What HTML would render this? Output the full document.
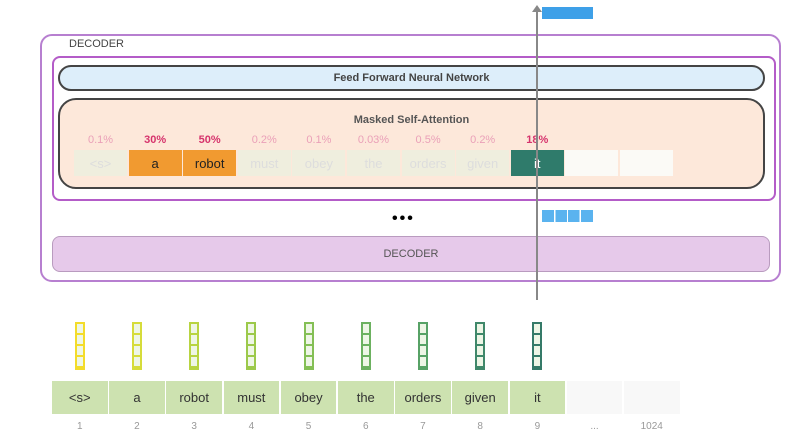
<!DOCTYPE html>
<html><head><style>
body{margin:0;width:810px;height:446px;background:#fff;font-family:"Liberation Sans",sans-serif;position:relative;overflow:hidden}
.a{position:absolute;box-sizing:border-box}
.c{display:flex;align-items:center;justify-content:center}
</style></head><body>
<div class="a" style="left:40px;top:34px;width:741px;height:248px;border:2px solid #b77fd0;border-radius:12px"></div>
<div class="a" style="left:69px;top:38px;font-size:11px;color:#444">DECODER</div>
<div class="a" style="left:52px;top:56px;width:724px;height:145px;border:2px solid #b45cc8;border-radius:8px"></div>
<div class="a c" style="left:58px;top:65px;width:707px;height:26px;border:2px solid #444;border-radius:13px;background:#ddeefa;font-size:11px;font-weight:bold;color:#444">Feed Forward Neural Network</div>
<div class="a" style="left:58px;top:98px;width:707px;height:91px;border:2px solid #444;border-radius:18px;background:#fde8da"></div>
<div class="a" style="left:58px;top:114px;width:707px;text-align:center;font-size:11px;font-weight:bold;color:#555">Masked Self-Attention</div>
<div id="top"></div>
<div class="a" style="left:52px;top:236px;width:718px;height:36px;border:1px solid #b99bbf;border-radius:8px;background:#e6c9ea;font-size:11px;color:#555" ></div>
<div class="a c" style="left:52px;top:236px;width:718px;height:36px;font-size:11px;color:#555">DECODER</div>
<div class="a" style="left:392px;top:210px;font-size:16px;font-weight:bold;letter-spacing:2px">•••</div>
<div class="a" style="left:536px;top:10px;width:1.5px;height:290px;background:#888"></div>
<div class="a" style="left:532px;top:5px;width:0;height:0;border-left:5px solid transparent;border-right:5px solid transparent;border-bottom:7px solid #888"></div>
<div class="a" style="left:542px;top:7px;width:51px;height:12px;background:#3ea0e8"></div>
<div class="a" style="left:542px;top:210px;width:51px;height:12px;background:linear-gradient(90deg,#5ab3ef 0 24%,#fff 24% 26%,#5ab3ef 26% 49%,#fff 49% 51%,#5ab3ef 51% 74%,#fff 74% 76%,#5ab3ef 76%)"></div>
<script>
var p=["0.1%","30%","50%","0.2%","0.1%","0.03%","0.5%","0.2%","18%"];
var w=["<s>","a","robot","must","obey","the","orders","given","it"];
var vc=["#f3dc2a","#d6dc3a","#b8d442","#9cc94a","#84bf55","#6cb160","#57a266","#40886a","#357a68"];
var h="";
for(var i=0;i<11;i++){var x=74+i*54.6;
 var bg="#efeede",col="#ddd",fw="normal";
 if(i==1||i==2){bg="#f19a30";col="#222"}
 if(i==8){bg="#2f7b6b";col="#fff"}
 if(i>8){bg="#fbfaf6"}
 h+='<div class="a c" style="left:'+x+'px;top:150px;width:53px;height:26px;background:'+bg+';color:'+col+';font-size:13px">'+(i<9?w[i].replace("<","&lt;").replace(">","&gt;"):"")+'</div>';
 if(i<9){var pc=(i==1||i==2||i==8)?"#d6336c":"#eaa0b8";fw=(i==1||i==2||i==8)?"bold":"normal";
 h+='<div class="a" style="left:'+x+'px;top:134px;width:53px;text-align:center;font-size:11px;color:'+pc+';font-weight:'+fw+'">'+p[i]+'</div>';}
}
for(var i=0;i<11;i++){var x=52+i*57.2;
 var bg=i<9?"#cde2b0":"#f8f8f8";
 h+='<div class="a c" style="left:'+x+'px;top:381px;width:55.5px;height:33px;background:'+bg+';font-size:13px;color:#333">'+(i<9?w[i].replace("<","&lt;").replace(">","&gt;"):"")+'</div>';
 h+='<div class="a" style="left:'+x+'px;top:421px;width:55.5px;text-align:center;font-size:10px;color:#999">'+(i<9?(i+1):(i==9?"...":"1024"))+'</div>';
 if(i<9){var cx=x+27.7-5;
  h+='<div class="a" style="left:'+cx+'px;top:322px;width:10px;height:48px;border:2px solid '+vc[i]+';background:repeating-linear-gradient(#eef6e6 0 9px,'+vc[i]+' 9px 11px)"></div>';}
}
document.getElementById("top").outerHTML=h;
</script>
</body></html>
